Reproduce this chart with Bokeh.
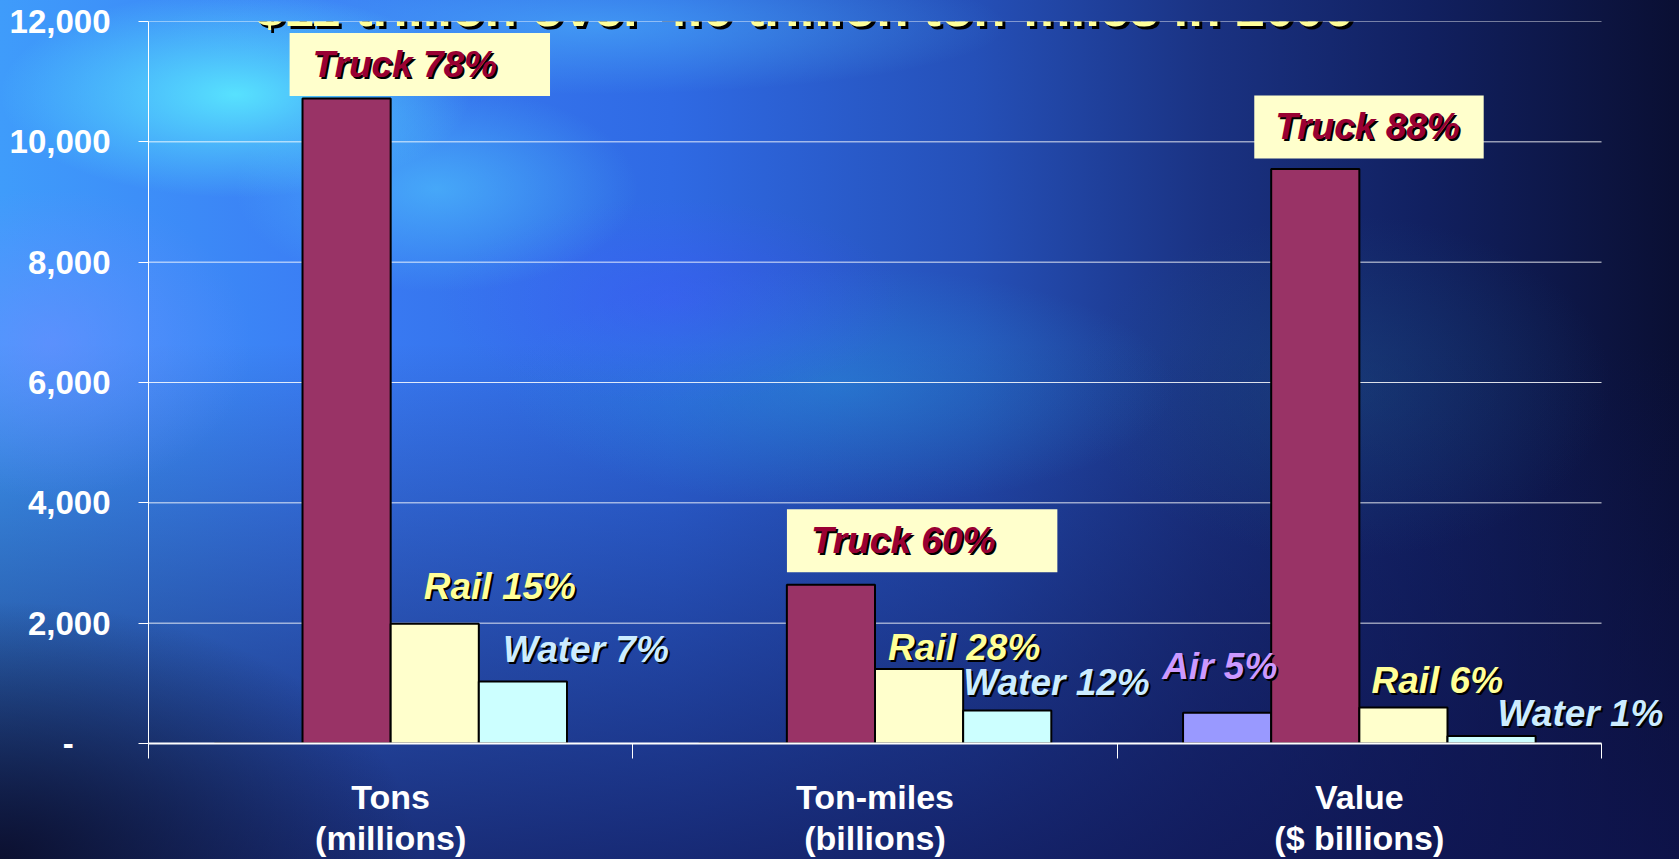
from bokeh.plotting import figure
from bokeh.models import (Range1d, LinearAxis, FixedTicker,
                          NumeralTickFormatter, ColumnDataSource, Label)
from bokeh.transform import dodge
from bokeh.embed import file_html
from bokeh.resources import INLINE

# ---------------- data ----------------
categories = ["Tons", "Ton-miles", "Value"]
category_units = ["(millions)", "(billions)", "($ billions)"]
modes = ["Air", "Truck", "Rail", "Water"]
air = [0, 0, 510]
truck = [10720, 2640, 9550]
rail = [1990, 1240, 600]
water = [1030, 550, 125]
air_pct = [None, None, 5]
truck_pct = [78, 60, 88]
rail_pct = [15, 28, 6]
water_pct = [7, 12, 1]
y_ticks = [0, 2000, 4000, 6000, 8000, 10000, 12000]
title_text = "$11 trillion over 4.6 trillion ton-miles in 2006"

# ---------------- styling / layout ----------------
bar_colors = {"Air": "#9999FF", "Truck": "#993366", "Rail": "#FFFFCC", "Water": "#CCFFFF"}
text_colors = {"Air": "#CC99FF", "Truck": "#990033", "Rail": "#FFFF99", "Water": "#CCECFF"}
bar_width = 0.182
bar_offsets = {"Air": -0.273, "Truck": -0.091, "Rail": 0.091, "Water": 0.273}
# label offsets in screen px relative to bar centre / bar top
label_offsets = {
    "Air": [None, None, (-65, 46)],
    "Truck": [(-34, 34), (-20, 44), (-40, 42)],
    "Rail": [(-11, 37), (-31, 21), (-32, 27)],
    "Water": [(-20, 32), (-44, 28), (6, 22)],
}
truck_box_pad = [dict(left=23, right=53, top=11, bottom=11),
                 dict(left=24, right=62, top=11, bottom=11),
                 dict(left=21, right=24, top=11, bottom=11)]
extra_right = 0.161   # room to the right of the last category, for the "Water 1%" label

values = {"Air": air, "Truck": truck, "Rail": rail, "Water": water}
pcts = {"Air": air_pct, "Truck": truck_pct, "Rail": rail_pct, "Water": water_pct}
ncat = len(categories)
cat_centre = [i + 0.5 for i in range(ncat)]

bg = ("radial-gradient(ellipse 14% 12% at 14% 11%, rgba(90,235,255,0.9) 0%, rgba(90,235,255,0) 100%),"
      "radial-gradient(ellipse 12% 12% at 26% 22%, rgba(80,200,255,0.6), rgba(80,200,255,0)),"
      "radial-gradient(ellipse 25% 8% at 35% 3%, rgba(80,190,255,0.5), rgba(80,190,255,0)),"
      "radial-gradient(ellipse 14% 12% at 40% 35%, rgba(70,80,255,0.35), rgba(70,80,255,0)),"
      "radial-gradient(ellipse 12% 18% at 3% 40%, rgba(110,140,255,0.6), rgba(110,140,255,0)),"
      "radial-gradient(ellipse 20% 14% at 50% 45%, rgba(40,150,220,0.45), rgba(40,150,220,0)),"
      "radial-gradient(ellipse 16% 20% at 80% 45%, rgba(30,90,140,0.35), rgba(30,90,140,0)),"
      "radial-gradient(ellipse 25% 30% at 0% 100%, rgba(10,12,40,0.9), rgba(10,12,40,0)),"
      "linear-gradient(to bottom, rgba(15,20,70,0) 0%, rgba(15,20,70,0) 40%, rgba(15,20,80,0.75) 100%),"
      "linear-gradient(to right, #3f9cfb 0%, #3a7cf4 20%, #2f6ae4 40%, #2550b8 58%, #1a3282 72%, #112060 85%, #0a0f33 100%)")

p = figure(width=1679, height=859, output_backend="svg", toolbar_location=None,
           x_range=Range1d(0, ncat + extra_right), y_range=Range1d(y_ticks[0], y_ticks[-1]),
           x_axis_location=None, min_border_left=148, min_border_right=0,
           min_border_top=21, min_border_bottom=113)
p.styles = {"background": bg}
p.background_fill_color = None
p.border_fill_color = None
p.outline_line_color = None

# horizontal grid lines, only across the category area
p.segment(x0=0, x1=ncat, y0=y_ticks, y1=y_ticks, line_color="white",
          line_alpha=0.85, line_width=1, level="underlay")

source = ColumnDataSource(dict(cats=categories, pos=cat_centre,
                               Air=air, Truck=truck, Rail=rail, Water=water))
for m in modes:
    p.vbar(x=dodge("pos", bar_offsets[m]), top=m, width=bar_width,
           source=source, fill_color=bar_colors[m], line_color="black", line_width=2)

AXFONT = "Liberation Sans"
# y axis
ya = p.yaxis[0]
ya.ticker = FixedTicker(ticks=y_ticks)
ya.formatter = NumeralTickFormatter(format="0,0")
ya.major_label_overrides = {0: "-\u00a0\u00a0\u00a0\u00a0"}
ya.axis_line_color = "white"
ya.axis_line_width = 1
ya.major_tick_line_color = "white"
ya.major_tick_out = 10
ya.major_tick_in = 0
ya.minor_tick_line_color = None
ya.major_label_standoff = 28
ya.major_label_text_color = "white"
ya.major_label_text_font = AXFONT
ya.major_label_text_font_style = "bold"
ya.major_label_text_font_size = "33px"
p.ygrid.visible = False
p.xgrid.visible = False

# x axis: category names at centres, ticks at category boundaries
xa = LinearAxis(ticker=FixedTicker(ticks=cat_centre, minor_ticks=list(range(ncat + 1))),
                major_label_overrides={c: lab for c, lab in zip(cat_centre, categories)},
                bounds=(0, ncat))
xa.axis_line_color = "white"
xa.axis_line_width = 2
xa.major_tick_line_color = None
xa.major_tick_out = 0
xa.major_tick_in = 0
xa.minor_tick_line_color = "white"
xa.minor_tick_out = 15
xa.minor_tick_in = 0
xa.major_label_standoff = 19
xa.major_label_text_color = "white"
xa.major_label_text_font = AXFONT
xa.major_label_text_font_style = "bold"
xa.major_label_text_font_size = "34px"
p.add_layout(xa, "below")

# second line of the category labels (units)
xa2 = LinearAxis(ticker=FixedTicker(ticks=cat_centre),
                 major_label_overrides={c: lab for c, lab in zip(cat_centre, category_units)})
xa2.axis_line_color = None
xa2.major_tick_line_color = None
xa2.minor_tick_line_color = None
xa2.major_tick_out = 0
xa2.major_tick_in = 0
xa2.minor_tick_out = 0
xa2.major_label_standoff = 0
xa2.major_label_text_color = "white"
xa2.major_label_text_font = AXFONT
xa2.major_label_text_font_style = "bold"
xa2.major_label_text_font_size = "34px"
p.add_layout(xa2, "below")

FONT = "Liberation Sans"

# bar labels
for m in modes:
    for i, c in enumerate(categories):
        pct = pcts[m][i]
        if pct is None:
            continue
        dx, dy = label_offsets[m][i]
        x = cat_centre[i] + bar_offsets[m]
        y = values[m][i]
        txt = f"{m} {pct}%"
        common = dict(x=x, y=y, text=txt, text_font=FONT,
                      text_font_style="bold italic", text_font_size="37px",
                      text_align="left", text_baseline="middle")
        if m == "Truck":
            pad = truck_box_pad[i]
            p.add_layout(Label(x_offset=dx - pad["left"], y_offset=dy, text_color="#FFFFCC",
                               background_fill_color="#FFFFCC", padding=pad,
                               **common))
        p.add_layout(Label(x_offset=dx + 2, y_offset=dy - 2, text_color="black", **common))
        p.add_layout(Label(x_offset=dx, y_offset=dy, text_color=text_colors[m], **common))

# title (mostly above the page, as in the original)
tcommon = dict(x=1.3534, y=y_ticks[-1], text=title_text, text_font=FONT,
               text_font_style="bold", text_font_size="53px", text_align="center",
               text_baseline="alphabetic")
p.add_layout(Label(x_offset=3, y_offset=11, text_color="black", **tcommon))
p.add_layout(Label(x_offset=0, y_offset=14, text_color="#FFFF99", **tcommon))

open("out.html", "w").write(file_html(p, INLINE))
